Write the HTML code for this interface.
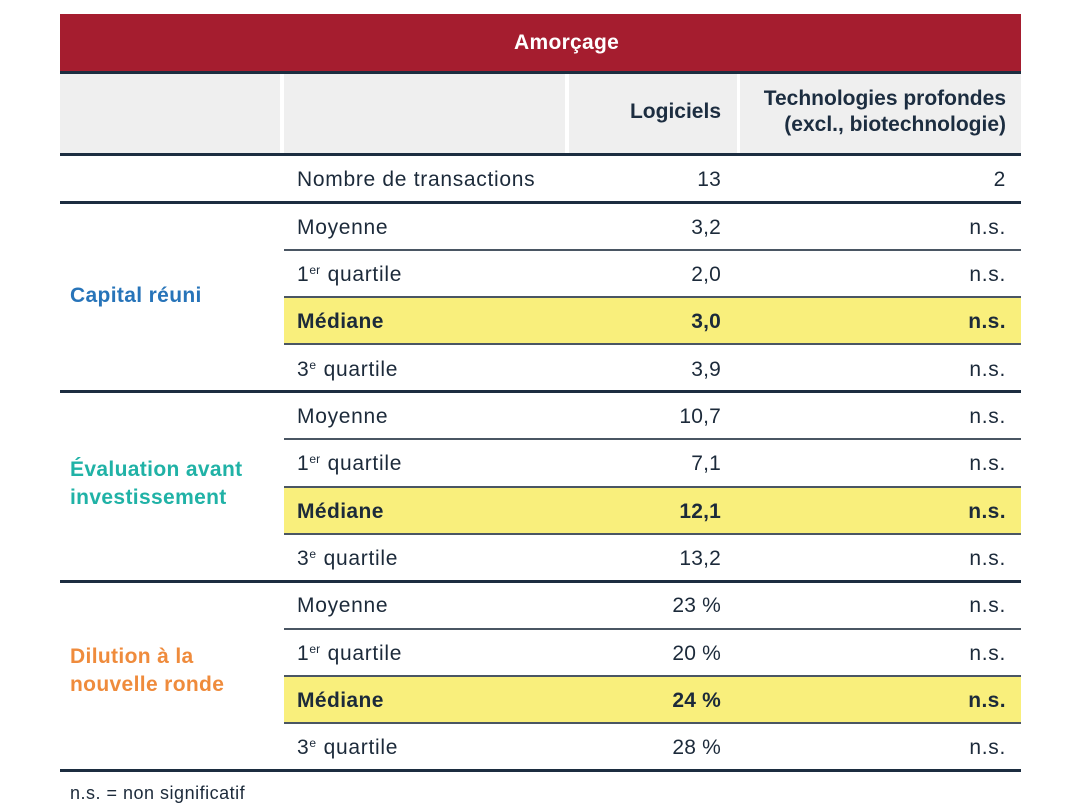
<!DOCTYPE html>
<html>
<head>
<meta charset="utf-8">
<style>
  html, body { margin:0; padding:0; }
  body { width:1080px; height:811px; background:#ffffff; position:relative; overflow:hidden;
         font-family:"Liberation Sans", "DejaVu Sans", sans-serif; color:#1c2a3a; }
  .abs { position:absolute; }
  .red { left:60px; top:14px; width:961px; height:57px; background:#a51d2f; }
  .title { left:514px; top:14px; height:57px; line-height:57px; color:#fff; font-weight:bold; font-size:21px; letter-spacing:0.3px; }
  .hline { left:60px; width:961px; background:#1c2d40; }
  .gray { top:74px; height:79px; background:#efefef; }
  .hh { font-weight:bold; font-size:21px; color:#1c2d40; text-align:right; }
  .heavy { left:60px; width:961px; height:3px; background:#1c2d40; }
  .thin { left:284px; width:737px; height:2px; background:#4a5663; }
  .yellow { left:284px; width:737px; background:#f9ef7c; }
  .row { height:47px; line-height:47px; font-size:21px; letter-spacing:0.7px; white-space:nowrap; }
  .lab { left:297px; }
  .c1 { left:560px; width:161px; text-align:right; letter-spacing:0.2px; }
  .c2 { left:760px; width:246px; text-align:right; }
  .b { font-weight:bold; letter-spacing:0.4px; }
  .c1.b { letter-spacing:0.2px; }
  sup { font-size:12px; vertical-align:0; position:relative; top:-7px; letter-spacing:0; margin-right:1px; }
  .sec { left:70px; font-weight:bold; font-size:21px; letter-spacing:0.35px; line-height:28px; }
  .foot { left:70px; top:781px; font-size:18px; letter-spacing:0.5px; line-height:24px; color:#1c2a3a; }
</style>
</head>
<body>
  <!-- Header -->
  <div class="abs red"></div>
  <div class="abs title">Amorçage</div>
  <div class="abs hline" style="top:71px;height:3px;"></div>

  <div class="abs gray" style="left:60px;width:220px;"></div>
  <div class="abs gray" style="left:284px;width:281px;"></div>
  <div class="abs gray" style="left:569px;width:168px;"></div>
  <div class="abs gray" style="left:740px;width:281px;"></div>

  <div class="abs hh" style="left:560px;width:161px;top:98px;line-height:28px;">Logiciels</div>
  <div class="abs hh" style="left:700px;width:306px;top:86px;line-height:26px;">Technologies profondes<br>(excl., biotechnologie)</div>

  <!-- Yellow rows -->
  <div class="abs yellow" style="top:297px;height:47px;"></div>
  <div class="abs yellow" style="top:486px;height:48px;"></div>
  <div class="abs yellow" style="top:676px;height:47px;"></div>

  <!-- Lines -->
  <div class="abs heavy" style="top:153px;"></div>
  <div class="abs heavy" style="top:201px;"></div>
  <div class="abs thin" style="top:248.7px;"></div>
  <div class="abs thin" style="top:296px;"></div>
  <div class="abs thin" style="top:343.4px;"></div>
  <div class="abs heavy" style="top:390px;"></div>
  <div class="abs thin" style="top:438.1px;"></div>
  <div class="abs thin" style="top:485.5px;"></div>
  <div class="abs thin" style="top:532.8px;"></div>
  <div class="abs heavy" style="top:579.7px;"></div>
  <div class="abs thin" style="top:627.5px;"></div>
  <div class="abs thin" style="top:674.9px;"></div>
  <div class="abs thin" style="top:722.2px;"></div>
  <div class="abs heavy" style="top:769px;"></div>

  <!-- Row 0 -->
  <div class="abs row lab" style="top:156px;">Nombre de transactions</div>
  <div class="abs row c1" style="top:156px;">13</div>
  <div class="abs row c2" style="top:156px;">2</div>

  <!-- Capital réuni -->
  <div class="abs sec" style="top:282px;color:#2774b9;">Capital réuni</div>

  <div class="abs row lab" style="top:203.5px;">Moyenne</div>
  <div class="abs row c1" style="top:203.5px;">3,2</div>
  <div class="abs row c2" style="top:203.5px;">n.s.</div>

  <div class="abs row lab" style="top:250.9px;">1<sup>er</sup> quartile</div>
  <div class="abs row c1" style="top:250.9px;">2,0</div>
  <div class="abs row c2" style="top:250.9px;">n.s.</div>

  <div class="abs row lab b" style="top:298.2px;">Médiane</div>
  <div class="abs row c1 b" style="top:298.2px;">3,0</div>
  <div class="abs row c2 b" style="top:298.2px;">n.s.</div>

  <div class="abs row lab" style="top:345.6px;">3<sup>e</sup> quartile</div>
  <div class="abs row c1" style="top:345.6px;">3,9</div>
  <div class="abs row c2" style="top:345.6px;">n.s.</div>

  <!-- Évaluation -->
  <div class="abs sec" style="top:456px;color:#20b2a6;">Évaluation avant<br>investissement</div>

  <div class="abs row lab" style="top:392.9px;">Moyenne</div>
  <div class="abs row c1" style="top:392.9px;">10,7</div>
  <div class="abs row c2" style="top:392.9px;">n.s.</div>

  <div class="abs row lab" style="top:440.3px;">1<sup>er</sup> quartile</div>
  <div class="abs row c1" style="top:440.3px;">7,1</div>
  <div class="abs row c2" style="top:440.3px;">n.s.</div>

  <div class="abs row lab b" style="top:487.6px;">Médiane</div>
  <div class="abs row c1 b" style="top:487.6px;">12,1</div>
  <div class="abs row c2 b" style="top:487.6px;">n.s.</div>

  <div class="abs row lab" style="top:535px;">3<sup>e</sup> quartile</div>
  <div class="abs row c1" style="top:535px;">13,2</div>
  <div class="abs row c2" style="top:535px;">n.s.</div>

  <!-- Dilution -->
  <div class="abs sec" style="top:643px;color:#ef8b3c;">Dilution à la<br>nouvelle ronde</div>

  <div class="abs row lab" style="top:582.3px;">Moyenne</div>
  <div class="abs row c1" style="top:582.3px;">23 %</div>
  <div class="abs row c2" style="top:582.3px;">n.s.</div>

  <div class="abs row lab" style="top:629.7px;">1<sup>er</sup> quartile</div>
  <div class="abs row c1" style="top:629.7px;">20 %</div>
  <div class="abs row c2" style="top:629.7px;">n.s.</div>

  <div class="abs row lab b" style="top:677px;">Médiane</div>
  <div class="abs row c1 b" style="top:677px;">24 %</div>
  <div class="abs row c2 b" style="top:677px;">n.s.</div>

  <div class="abs row lab" style="top:724.4px;">3<sup>e</sup> quartile</div>
  <div class="abs row c1" style="top:724.4px;">28 %</div>
  <div class="abs row c2" style="top:724.4px;">n.s.</div>

  <!-- Footnote -->
  <div class="abs foot">n.s. = non significatif</div>
</body>
</html>
